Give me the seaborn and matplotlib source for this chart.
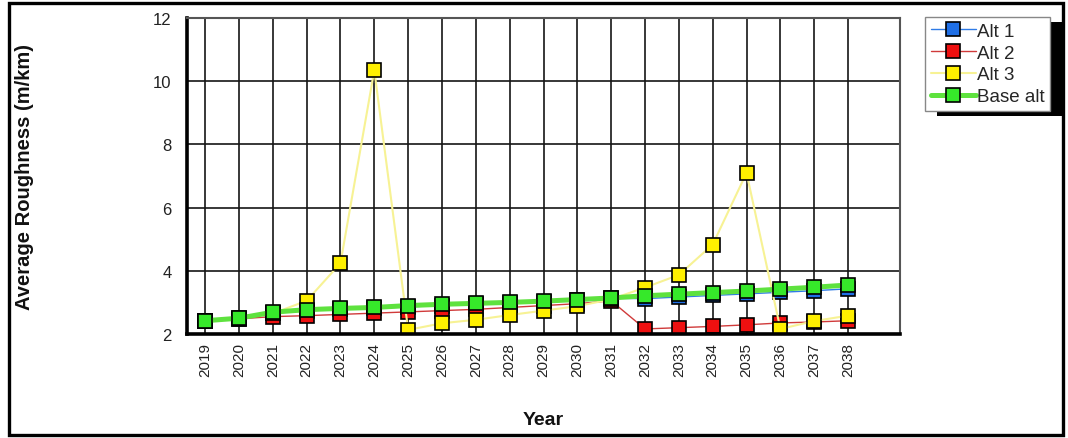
import matplotlib
matplotlib.use("Agg")
import matplotlib.pyplot as plt
import seaborn as sns
from matplotlib.patches import Rectangle

# Average roughness per analysis year for each maintenance alternative
years = list(range(2019, 2039))
alt1 = [2.42, 2.49, 2.66, 2.74, 2.78, 2.81, 2.86, 2.90, 2.94, 2.98,
        3.02, 3.07, 3.13, 3.12, 3.17, 3.22, 3.27, 3.32, 3.37, 3.43]
alt2 = [2.42, 2.48, 2.55, 2.58, 2.62, 2.66, 2.70, 2.74, 2.78, 2.84,
        2.90, 2.96, 3.05, 2.16, 2.20, 2.24, 2.29, 2.35, 2.38, 2.42]
alt3 = [2.42, 2.50, 2.65, 3.05, 4.24, 10.35, 2.13, 2.34, 2.45, 2.60,
        2.74, 2.88, 3.10, 3.47, 3.87, 4.83, 7.10, 2.16, 2.41, 2.58]
base_alt = [2.42, 2.50, 2.69, 2.77, 2.81, 2.84, 2.90, 2.94, 2.97, 3.00,
            3.04, 3.09, 3.14, 3.21, 3.26, 3.31, 3.36, 3.42, 3.48, 3.55]
series_names = ["Alt 1", "Alt 2", "Alt 3", "Base alt"]
y_ticks = [2, 4, 6, 8, 10, 12]

sns.set_theme(style="white")
plt.rcParams["font.family"] = ["Liberation Sans", "DejaVu Sans"]

W, H = 1068, 439
fig = plt.figure(figsize=(W / 100, H / 100), dpi=100)
ax = fig.add_axes([187 / W, 1 - 335 / H, (900 - 187) / W, (335 - 19) / H])

styles = {
    "Alt 1": dict(line="#2f7be6", face="#1f6fe6", lw=1.0),
    "Alt 2": dict(line="#d03a3a", face="#ee1010", lw=1.0),
    "Alt 3": dict(line="#f7f294", face="#fff000", lw=1.5),
    "Base alt": dict(line="#5ee23e", face="#36e82a", lw=3.6),
}

handles = []
for name, values in zip(series_names, [alt1, alt2, alt3, base_alt]):
    st = styles[name]
    sns.lineplot(x=years, y=values, ax=ax, color=st["line"], linewidth=st["lw"],
                 marker="s", markersize=10, markerfacecolor=st["face"],
                 markeredgecolor="black", markeredgewidth=1.2, legend=False)
    line = ax.lines[-1]
    line.set_label(name)
    handles.append(line)

ax.set_xlim(2018.465, 2039.535)
ax.set_ylim(2, 12)
ax.set_xticks(years)
ax.set_xticklabels([str(y) for y in years], rotation=90)
ax.set_yticks(y_ticks)
ax.set_yticklabels([str(v) for v in y_ticks])

ax.set_axisbelow(True)
ax.grid(True, color="#151515", linewidth=1.2)
ax.tick_params(axis="both", length=0, colors="#222222")
ax.tick_params(axis="y", labelsize=12, pad=11)
ax.tick_params(axis="x", labelsize=11, pad=6)

for side in ("left", "bottom"):
    ax.spines[side].set_color("black")
    ax.spines[side].set_linewidth(2.6)
for side in ("top", "right"):
    ax.spines[side].set_color("#555555")
    ax.spines[side].set_linewidth(1.5)

ax.set_xlabel("Year", fontsize=14, fontweight="bold", color="#111111")
ax.set_ylabel("Average Roughness (m/km)", fontsize=14.5, fontweight="bold", color="#111111")
ax.xaxis.set_label_coords(0.5, -0.245)
ax.yaxis.set_label_coords(-0.215, 0.5)

leg = fig.legend(handles, series_names, loc="upper left",
                 bbox_to_anchor=(925 / W, 1 - 18 / H), frameon=True,
                 fancybox=False, edgecolor="#888888", framealpha=1,
                 fontsize=13.5, handlelength=2.4, handletextpad=0.05,
                 borderpad=0.3, labelspacing=0.25, borderaxespad=0)
leg.get_frame().set_linewidth(1.0)

# Solid black drop shadow behind the legend box
fig.canvas.draw()
bb = leg.get_window_extent()
shadow = Rectangle(((bb.x0 + 12) / W, (bb.y0 - 5) / H), bb.width / W, bb.height / H,
                   transform=fig.transFigure, facecolor="black", edgecolor="none",
                   zorder=4)
fig.patches.append(shadow)

# Frame around the whole figure
border = Rectangle((9 / W, 3 / H), (1063 - 9) / W, (434.7 - 3) / H,
                   transform=fig.transFigure, fill=False, edgecolor="black",
                   linewidth=2.4, zorder=10)
fig.patches.append(border)

fig.savefig("out.png", dpi=100)
